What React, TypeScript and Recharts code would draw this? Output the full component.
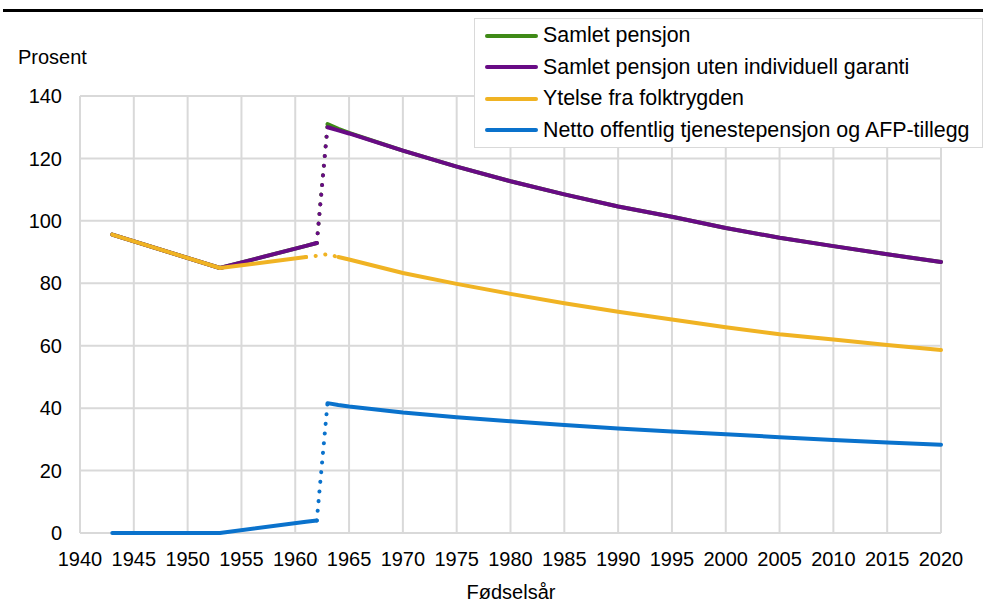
import React from "react";
import { LineChart, Line, XAxis, YAxis, CartesianGrid } from "recharts";

const years = [1943, 1953, 1961, 1962, 1963, 1964, 1965, 1970, 1975, 1980, 1985, 1990, 1995, 2000, 2005, 2010, 2015, 2020];
const samletPensjon = [95.6, 84.9, 92.0, 92.9, 131.0, 129.5, 128.2, 122.5, 117.4, 112.7, 108.5, 104.6, 101.3, 97.7, 94.6, 91.9, 89.3, 86.8];
const utenGaranti = [95.6, 84.9, 92.0, 92.9, 130.0, 129.0, 128.0, 122.5, 117.4, 112.7, 108.5, 104.6, 101.3, 97.7, 94.6, 91.9, 89.3, 86.8];
const folketrygd = [95.6, 84.9, 88.4, 88.8, 89.3, 88.4, 87.6, 83.3, 79.8, 76.6, 73.6, 70.9, 68.4, 65.9, 63.7, 62.0, 60.2, 58.6];
const tjeneste = [0, 0, 3.6, 4.0, 41.6, 41.0, 40.5, 38.6, 37.1, 35.8, 34.6, 33.5, 32.5, 31.6, 30.7, 29.8, 29.0, 28.3];

const xTicks = [1940, 1945, 1950, 1955, 1960, 1965, 1970, 1975, 1980, 1985, 1990, 1995, 2000, 2005, 2010, 2015, 2020];
const yTicks = [0, 20, 40, 60, 80, 100, 120, 140];

const seriesList = [
  { key: "samlet", name: "Samlet pensjon", values: samletPensjon, color: "#3f8a17", dotted: [1962, 1963] },
  { key: "uten", name: "Samlet pensjon uten individuell garanti", values: utenGaranti, color: "#680b85", dotted: [1962, 1963] },
  { key: "folk", name: "Ytelse fra folktrygden", values: folketrygd, color: "#f0b323", dotted: [1961, 1964] },
  { key: "tjen", name: "Netto offentlig tjenestepensjon og AFP-tillegg", values: tjeneste, color: "#0a72cc", dotted: [1962, 1963] },
];

const data = years.map((year, i) => {
  const row: Record<string, number | null> = { year };
  seriesList.forEach((s) => {
    const v = s.values[i];
    const [a, b] = s.dotted;
    row[s.key + "_pre"] = year <= a ? v : null;
    row[s.key + "_dot"] = year >= a && year <= b ? v : null;
    row[s.key + "_post"] = year >= b ? v : null;
  });
  return row;
});

const FONT = "'Liberation Sans', Arial, sans-serif";
const GRID = "#d9d9d9";

export default function App() {
  const lines: React.ReactNode[] = [];
  seriesList.forEach((s) => {
    ["pre", "dot", "post"].forEach((part) => {
      lines.push(
        <Line
          key={s.key + part}
          dataKey={s.key + "_" + part}
          type="linear"
          stroke={s.color}
          strokeWidth={4}
          strokeLinecap="round"
          strokeLinejoin="round"
          strokeDasharray={part === "dot" ? "0.1 9.6" : undefined}
          dot={false}
          activeDot={false}
          connectNulls={false}
          isAnimationActive={false}
        />
      );
    });
  });

  return (
    <div style={{ position: "absolute", left: 0, top: 0, width: 983, height: 603, background: "#fff", fontFamily: FONT }}>
      <div style={{ position: "absolute", left: 3, top: 9, width: 980, height: 3, background: "#000" }} />
      <LineChart width={983} height={603} data={data} margin={{ top: 96, right: 42, bottom: 39, left: 0 }}>
        <CartesianGrid stroke={GRID} strokeWidth={2} />
        <XAxis
          dataKey="year"
          type="number"
          domain={[1940, 2020]}
          ticks={xTicks}
          interval={0}
          height={31}
          axisLine={false}
          tickLine={false}
          tickMargin={13}
          tick={{ fill: "#000", fontSize: 20, fontFamily: FONT }}
          label={{
            content: () => (
              <text x={511} y={599} textAnchor="middle" fontSize={20} fontFamily={FONT} fill="#000">
                Fødselsår
              </text>
            ),
          }}
        />
        <YAxis
          type="number"
          domain={[0, 140]}
          ticks={yTicks}
          interval={0}
          width={80}
          axisLine={false}
          tickLine={false}
          tickMargin={12}
          tick={{ fill: "#000", fontSize: 20, fontFamily: FONT }}
          label={{
            content: () => (
              <text x={18} y={64} textAnchor="start" fontSize={20} fontFamily={FONT} fill="#000">
                Prosent
              </text>
            ),
          }}
        />
        {lines}
      </LineChart>
      <div
        style={{
          position: "absolute",
          left: 474,
          top: 18,
          width: 507,
          height: 127,
          border: "1px solid " + GRID,
          background: "#fff",
          paddingTop: 1,
          boxSizing: "content-box",
        }}
      >
        {seriesList.map((s) => (
          <div key={s.key} style={{ display: "flex", alignItems: "center", height: 31.5 }}>
            <div style={{ marginLeft: 10, width: 53, height: 4, borderRadius: 2, background: s.color }} />
            <span style={{ marginLeft: 5, fontSize: 21.4, color: "#000", whiteSpace: "nowrap" }}>{s.name}</span>
          </div>
        ))}
      </div>
    </div>
  );
}
